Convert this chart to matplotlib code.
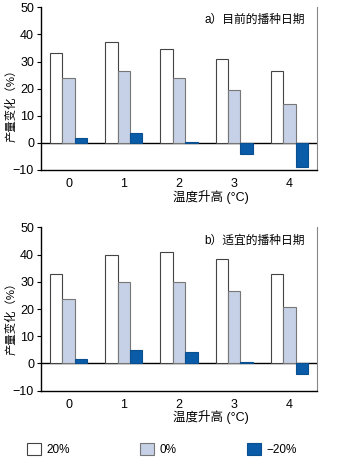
import matplotlib
matplotlib.use("Agg")
import matplotlib.pyplot as plt
import numpy as np

plt.rcParams['font.family'] = ['Liberation Sans', 'Noto Sans CJK SC', 'DejaVu Sans']

temps = ['0', '1', '2', '3', '4']
series_labels = ['20%', '0%', '−20%']
panel_a = {
    '20%': [33.1, 37.3, 34.6, 31.1, 26.6],
    '0%': [23.9, 26.5, 23.8, 19.5, 14.2],
    '-20%': [1.8, 3.6, 0.25, -4.1, -8.9],
}
panel_b = {
    '20%': [33.0, 39.8, 40.9, 38.4, 33.0],
    '0%': [23.8, 29.8, 29.9, 26.5, 20.6],
    '-20%': [1.8, 5.1, 4.2, 0.7, -4.0],
}
titles = ['a）目前的播种日期', 'b）适宜的播种日期']
yticks = [-10, 0, 10, 20, 30, 40, 50]

colors = ['#ffffff', '#c6d0e7', '#0a5ca8']
edges = ['#444444', '#777777', '#0a4f90']

W, H = 343, 458
fig = plt.figure(figsize=(W / 100, H / 100), dpi=100)

def axes_px(left, top, right, bottom):
    return fig.add_axes([left / W, 1 - bottom / H, (right - left) / W, (bottom - top) / H])

axA = axes_px(41, 7.3, 317, 170)
axB = axes_px(41, 227.3, 317, 390.7)

x = np.arange(len(temps))
bw = 0.224
handles = []
for ax, data, title, ylab_y in [(axA, panel_a, titles[0], 0.41), (axB, panel_b, titles[1], 0.46)]:
    ax.axhline(0, color='black', lw=1.0, zorder=1)
    hs = []
    for i, key in enumerate(['20%', '0%', '-20%']):
        b = ax.bar(x + (i - 1) * bw, data[key], width=bw, color=colors[i],
                   edgecolor=edges[i], linewidth=0.8, zorder=2)
        hs.append(b)
    handles = hs
    ax.set_xlim(-0.5, 4.5)
    ax.set_ylim(-10, 50)
    ax.set_yticks(yticks)
    ax.set_xticks(x)
    ax.set_xticklabels(temps)
    ax.tick_params(axis='x', length=0, labelsize=9, pad=6)
    ax.tick_params(axis='y', length=3, width=0.8, labelsize=9, pad=2)
    ax.spines['top'].set_visible(False)
    ax.spines['right'].set_color('#888888')
    ax.spines['left'].set_linewidth(1.0)
    ax.spines['bottom'].set_linewidth(1.0)
    ax.text(0.957, 0.92, title, transform=ax.transAxes, ha='right', va='center', fontsize=8.5)
    ax.set_ylabel('产量变化（%）', fontsize=8.2)
    ax.yaxis.set_label_coords(-0.09, ylab_y)
    ax.set_xlabel('温度升高 (°C)', fontsize=9)
    ax.xaxis.set_label_coords(0.615, -0.12)

fig.legend(handles, series_labels, loc='lower left', bbox_to_anchor=(16 / W, 1 - 467 / H),
           ncol=3, frameon=False, fontsize=8.5, handlelength=1.2, handleheight=1.2,
           handletextpad=0.45, columnspacing=5.95)

fig.savefig('out.png', dpi=100)
